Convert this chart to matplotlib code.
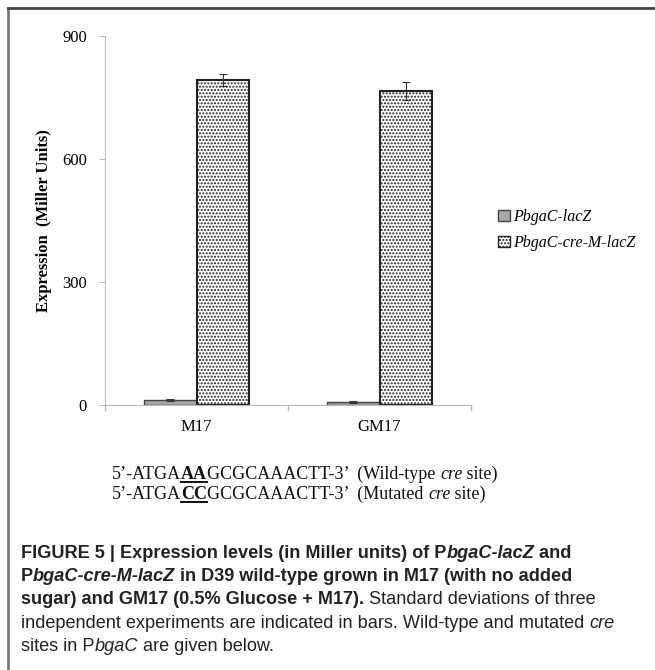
import matplotlib
matplotlib.use("Agg")
import matplotlib.pyplot as plt
import numpy as np
from matplotlib.lines import Line2D
from matplotlib.patches import Patch

categories = ["M17", "GM17"]
series_names = ["PbgaC-lacZ", "PbgaC-cre-M-lacZ"]
wild_values = [12, 8]
wild_err = [2, 2]
cre_values = [793, 766]
cre_err = [14, 21]
yticks = [0, 300, 600, 900]

plt.rcParams['hatch.color'] = '#666666'
plt.rcParams['hatch.linewidth'] = 1.0

fig = plt.figure(figsize=(6.55, 6.70), dpi=100)
renderer = fig.canvas.get_renderer()
W, H = 655, 670

# frame lines
fig.add_artist(Line2D([8/W, 8/W], [0, 1 - 8/H], color='#777777', lw=2, transform=fig.transFigure))
fig.add_artist(Line2D([8/W, 1], [1 - 8/H, 1 - 8/H], color='#444444', lw=2, transform=fig.transFigure))

ax = fig.add_axes([105/W, 265/H, (471-105)/W, (405-36)/H])
x = np.arange(len(categories))
w = 0.285
ax.bar(x - w/2, wild_values, w, color='#a6a6a6', edgecolor='#444444', linewidth=1.0,
       yerr=wild_err, error_kw=dict(ecolor='#333333', elinewidth=0.8, capsize=3, capthick=0.8),
       label=series_names[0])
ax.bar(x + w/2, cre_values, w, color='white', edgecolor='#222222', linewidth=1.5, hatch='.....',
       yerr=cre_err, error_kw=dict(ecolor='#333333', elinewidth=0.8, capsize=3, capthick=0.8),
       label=series_names[1])

ax.set_xlim(-0.5, 1.5)
ax.set_ylim(0, 900)
ax.set_yticks(yticks)
ax.set_yticklabels([str(t) for t in yticks], fontfamily='Liberation Serif', fontsize=12)
ax.set_xticks(x)
ax.set_xticklabels(categories, fontfamily='Liberation Serif', fontsize=12)
ax.tick_params(axis='x', length=0, pad=10)
ax.tick_params(axis='y', length=4, color='#bbbbbb', pad=9)
for b in [-0.5, 0.5, 1.5]:
    ax.plot([b, b], [0, -12], color='#bbbbbb', lw=1, clip_on=False)
for s in ['top', 'right']:
    ax.spines[s].set_visible(False)
ax.spines['left'].set_color('#bbbbbb')
ax.spines['bottom'].set_color('#bbbbbb')
ax.set_ylabel("Expression  (Miller Units)", fontfamily='Liberation Serif', fontweight='bold', fontsize=12, labelpad=7)

handles = [Patch(facecolor='#a6a6a6', edgecolor='#444444', label=series_names[0]),
           Patch(facecolor='white', edgecolor='#222222', hatch='.....', label=series_names[1])]
fig.legend(handles=handles, loc='center left', bbox_to_anchor=(484/W, 1 - 230/H), frameon=False,
           prop={'family': 'Liberation Serif', 'style': 'italic', 'size': 11.5},
           handlelength=0.7, handleheight=0.7, handletextpad=0.2, labelspacing=0.6)


def adv_width(txt, kw):
    """Advance width of txt in style kw (uses a bar glyph to keep trailing/leading spacing)."""
    t1 = fig.text(0, 0, txt + "|", **kw)
    t2 = fig.text(0, 0, "|", **kw)
    wdt = t1.get_window_extent(renderer).width - t2.get_window_extent(renderer).width
    t1.remove()
    t2.remove()
    return wdt


def rich(xpx, ypx, segments, base):
    """Place text segments one after another; each segment is (text, props, underline)."""
    cur = xpx
    for txt, props, ul in segments:
        kw = dict(base)
        kw.update(props)
        fig.text(cur / W, 1 - ypx / H, txt, va='baseline', ha='left', **kw)
        wdt = adv_width(txt, kw)
        if ul:
            fig.add_artist(Line2D([cur / W, (cur + wdt) / W], [1 - (ypx + 2.5) / H] * 2,
                                  color=kw.get('color', 'black'), lw=1.4, transform=fig.transFigure))
        cur += wdt


serif = dict(fontfamily='Liberation Serif', fontsize=13, color='#111111')
B = dict(fontweight='bold')
I = dict(fontstyle='italic')
rich(112, 479, [("5’-ATGA", {}, False), ("AA", B, True), ("GCGCAAACTT-3’  (Wild-type ", {}, False),
                ("cre", I, False), (" site)", {}, False)], serif)
rich(112, 499, [("5’-ATGA", {}, False), ("CC", B, True), ("GCGCAAACTT-3’  (Mutated ", {}, False),
                ("cre", I, False), (" site)", {}, False)], serif)

sans = dict(fontfamily='Liberation Sans', fontsize=13.1, color='#222222')
BI = dict(fontweight='bold', fontstyle='italic')
rich(21, 558, [("FIGURE 5 | Expression levels (in Miller units) of P", B, False), ("bgaC-lacZ", BI, False),
               (" and", B, False)], sans)
rich(21, 581, [("P", B, False), ("bgaC-cre-M-lacZ", BI, False),
               (" in D39 wild-type grown in M17 (with no added", B, False)], sans)
rich(21, 604, [("sugar) and GM17 (0.5% Glucose + M17).", B, False),
               (" Standard deviations of three", {}, False)], sans)
rich(21, 628, [("independent experiments are indicated in bars. Wild-type and mutated ", {}, False),
               ("cre", I, False)], sans)
rich(21, 651, [("sites in P", {}, False), ("bgaC", I, False), (" are given below.", {}, False)], sans)

fig.savefig("out.png", dpi=100)
